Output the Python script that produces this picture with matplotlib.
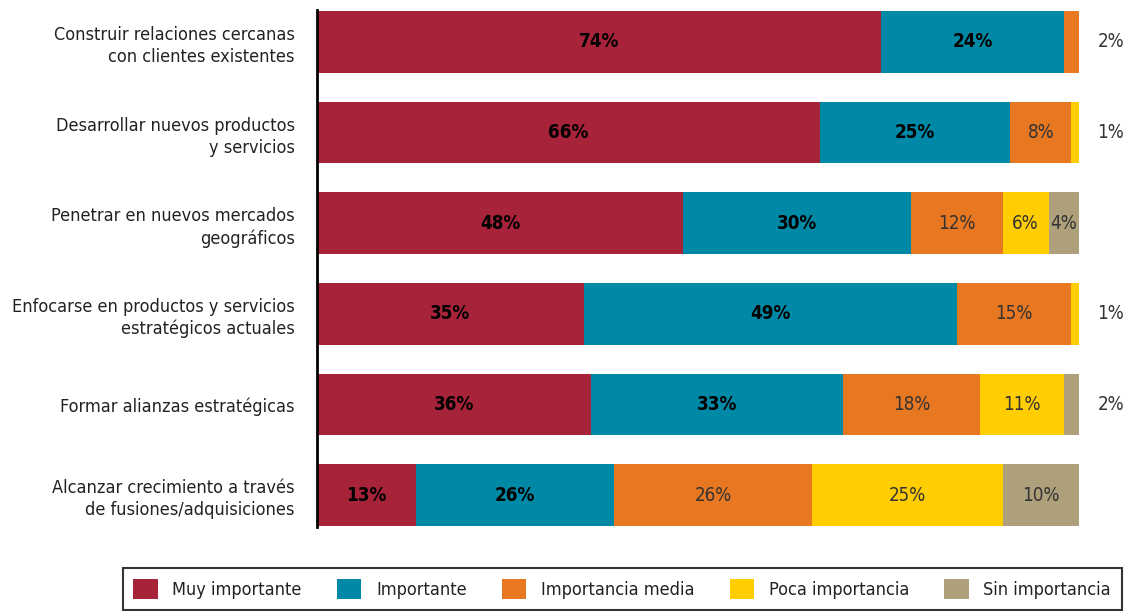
import matplotlib
matplotlib.use('Agg')
import matplotlib.pyplot as plt
from matplotlib.patches import Patch

plt.rcParams['font.family'] = ['DejaVu Sans']
plt.rcParams['font.stretch'] = 'condensed'

categories = [
    'Construir relaciones cercanas\ncon clientes existentes',
    'Desarrollar nuevos productos\ny servicios',
    'Penetrar en nuevos mercados\ngeográficos',
    'Enfocarse en productos y servicios\nestratégicos actuales',
    'Formar alianzas estratégicas',
    'Alcanzar crecimiento a través\nde fusiones/adquisiciones',
]
series_names = ['Muy importante', 'Importante', 'Importancia media',
                'Poca importancia', 'Sin importancia']
muy_importante = [74, 66, 48, 35, 36, 13]
importante = [24, 25, 30, 49, 33, 26]
importancia_media = [2, 8, 12, 15, 18, 26]
poca_importancia = [0, 1, 6, 1, 11, 25]
sin_importancia = [0, 0, 4, 0, 2, 10]

series = [muy_importante, importante, importancia_media,
          poca_importancia, sin_importancia]
colors = ['#A6233A', '#0089A6', '#E87722', '#FFCD00', '#ADA07A']
bold_series = [True, True, False, False, False]

fig = plt.figure(figsize=(11.25, 6.11), dpi=100)
ax = fig.add_axes([0.2818, 0.1375, 0.6773, 0.846])

y = list(range(len(categories)))
left = [0] * len(categories)
for k, (vals, color, bold) in enumerate(zip(series, colors, bold_series)):
    ax.barh(y, vals, left=left, height=0.68, color=color, edgecolor='none')
    for i, v in enumerate(vals):
        if v == 0:
            continue
        is_last = all(s[i] == 0 for s in series[k + 1:])
        if v <= 2 and is_last:
            # thin end segments get their label outside the bar
            x, c, w = 104.2, '#333333', 'normal'
        else:
            x = left[i] + v / 2
            c = '#000000' if bold else '#333333'
            w = 'bold' if bold else 'normal'
        ax.text(x, i, f'{v}%', ha='center', va='center', fontsize=13.5,
                color=c, weight=w)
    left = [l + v for l, v in zip(left, vals)]

ax.set_xlim(0, 100)
ax.set_ylim(5.35, -0.35)
ax.set_yticks(y)
ax.set_yticklabels(categories, fontsize=13, color='#222222', linespacing=1.3)
ax.tick_params(axis='y', length=0, pad=16)
ax.set_xticks([])
for side in ['top', 'right', 'bottom']:
    ax.spines[side].set_visible(False)
ax.spines['left'].set_linewidth(2)

handles = [Patch(facecolor=c, edgecolor='none') for c in colors]
leg = fig.legend(handles, series_names, loc='upper left', ncol=5,
                 bbox_to_anchor=(0.109, 0.0, 0.888, 0.0705), mode='expand',
                 fontsize=13, frameon=True, fancybox=False,
                 handlelength=1.35, handleheight=1.35, handletextpad=0.8,
                 borderaxespad=0, borderpad=0.6)
leg.get_frame().set_edgecolor('#000000')
leg.get_frame().set_linewidth(1.5)
for t in leg.get_texts():
    t.set_color('#222222')

fig.savefig('out.png', dpi=100)
